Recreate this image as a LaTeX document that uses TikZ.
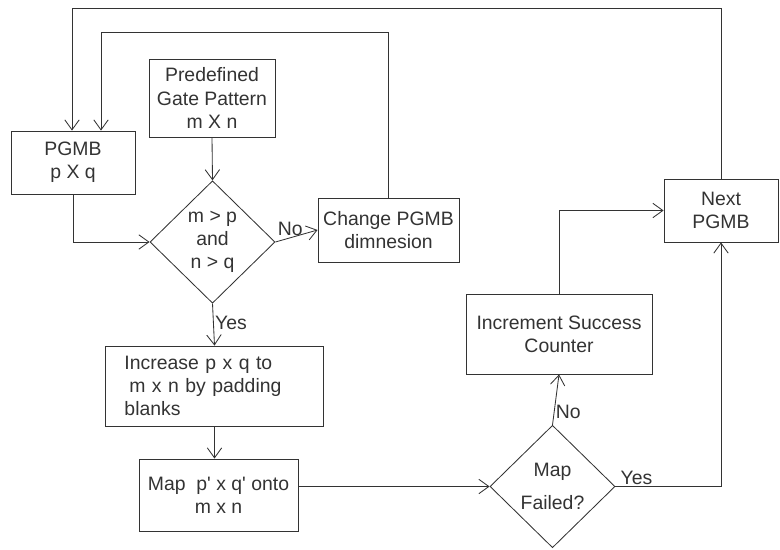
\documentclass[tikz,border=0pt]{standalone}
\usepackage{fontspec}
\setmainfont{Liberation Sans}
\usetikzlibrary{arrows.meta,shapes.geometric,calc}
\definecolor{ink}{RGB}{51,51,51}
\tikzset{
  procbox/.style={rectangle,draw=ink,line width=0.6pt,text=ink,align=center,inner sep=2pt},
  decide/.style={diamond,draw=ink,line width=0.6pt,text=ink,align=center,inner sep=0pt,
    minimum width=3.125cm,minimum height=3.06cm},
  flow/.style={-{Straight Barb[length=2.5mm,width=3.6mm]},draw=ink,line width=0.6pt},
  lbl/.style={text=ink,inner sep=1pt},
}

\begin{document}
\begin{tikzpicture}[x=0.025cm,y=-0.025cm,font=\fontsize{13.8}{16.5}\selectfont]
\useasboundingbox (0,0) rectangle (780,550);

\node[procbox,minimum width=3.1cm,minimum height=1.575cm] (pgmb) at (73,162.5) {PGMB\\p X q};
\node[procbox,minimum width=3.15cm,minimum height=1.95cm] (pattern) at (212,98) {Predefined\\Gate Pattern\\m X n};
\node[decide] (cond) at (212.5,242) {m > p\\and\\n > q};
\node[procbox,minimum width=3.525cm,minimum height=1.6cm] (change) at (388.5,230) {Change PGMB\\dimnesion};
\node[procbox,minimum width=2.85cm,minimum height=1.575cm] (nextb) at (721,210.5) {Next\\PGMB};
\node[procbox,align=left,text width=4.5cm,inner xsep=0.475cm,minimum height=2cm] (incr) at (214.5,386)
  {Increase p x q to\\\hspace{0.25em}m x n by padding\\blanks};
\node[procbox,minimum width=3.975cm,minimum height=1.8cm] (mapb) at (218.5,495)
  {Map\ \ p\textquotesingle{} x q\textquotesingle{} onto\\m x n};
\node[procbox,minimum width=4.65cm,minimum height=2cm] (incsc) at (559,334) {Increment Success\\Counter};
\node[decide] (fail) at (552.5,486.5) {Map\\[0.5em]Failed?};

% loop back corners
\coordinate (top1) at (72,8);
\coordinate (top2) at (101,32);

% flow arrows
\draw[flow] (nextb.north) |- (top1) -- (top1 |- pgmb.north);
\draw[flow] (change.north) |- (top2) -- (top2 |- pgmb.north);
\draw[flow] (pgmb.south) |- (cond.west);
\draw[flow] (pattern.south) -- (cond.north);
\draw[flow] (cond.east) -- node[lbl,above,pos=0.35] {No} (change.west);
\draw[flow] (cond.south) -- node[lbl,right,pos=0.45] {Yes} (incr.north);
\draw[flow] (incr.south) -- (incr.south |- mapb.north);
\draw[flow] (mapb.east |- fail.west) -- (fail.west);
\draw[flow] (fail.north) -- node[lbl,right,pos=0.25] {No} (incsc.south);
\draw[flow] (incsc.north) |- (nextb.west);
\draw[flow] (fail.east) -| node[lbl,above,pos=0.1] {Yes} (nextb.south);
\end{tikzpicture}
\end{document}
